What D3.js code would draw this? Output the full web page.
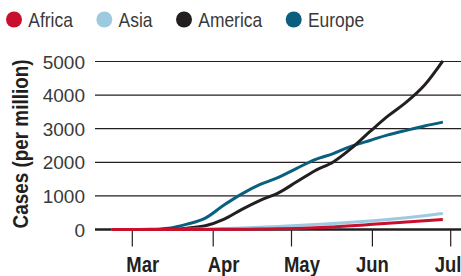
<!DOCTYPE html>
<html>
<head>
<meta charset="utf-8">
<script src="https://cdn.jsdelivr.net/npm/d3@7"></script>
<style>
  body { margin: 0; background: #fff; }
  svg { display: block; font-family: "Liberation Sans", Arial, sans-serif; }
</style>
</head>
<body>
<div class="canvas"></div>
<script>
// data (weekly readings, cases per million)
const dates = ["2020-02-22", "2020-03-01", "2020-03-08", "2020-03-15", "2020-03-22", "2020-03-29",
  "2020-04-05", "2020-04-12", "2020-04-19", "2020-04-26", "2020-05-03", "2020-05-10", "2020-05-17",
  "2020-05-24", "2020-05-31", "2020-06-07", "2020-06-14", "2020-06-21", "2020-06-28"];
const africa = [0, 0, 0, 1, 2, 3, 5, 8, 13, 20, 32, 52, 78, 108, 148, 188, 225, 262, 300];
const asia = [0, 0, 1, 3, 8, 15, 28, 45, 65, 92, 118, 148, 180, 215, 255, 300, 350, 410, 475];
const america = [0, 0, 2, 8, 40, 110, 300, 600, 870, 1090, 1420, 1750, 2010, 2420, 2910, 3380, 3790, 4300, 5020];
const europe = [0, 2, 8, 40, 160, 340, 720, 1060, 1340, 1550, 1820, 2080, 2260, 2480, 2650, 2815, 2950, 3080, 3195];

const regions = ["Africa", "Asia", "America", "Europe"];
const colors = ["#c8102e", "#9ecae1", "#231f20", "#0a5e7e"];
const yTicks = [0, 1000, 2000, 3000, 4000, 5000];
const monthTicks = ["2020-03-01", "2020-04-01", "2020-05-01", "2020-06-01", "2020-07-01"];
const monthLabels = ["Mar", "Apr", "May", "Jun", "Jul"];
const labelDates = ["2020-03-05", "2020-04-05", "2020-05-05", "2020-06-01", "2020-06-30"];

// dimensions
const w = 461;
const h = 276;
const squeeze = 0.84; // fake a condensed face
const parse = d3.utcParse("%Y-%m-%d");

const svg = d3.select(".canvas").append("svg").attr("width", w).attr("height", h);

const x = d3.scaleUtc().domain([parse("2020-03-01"), parse("2020-07-01")]).range([132.3, 450.7]);
const y = d3.scaleLinear().domain([0, 5000]).range([229.5, 61.5]);

// gridlines + y labels
const yAxis = svg.append("g");
yAxis.selectAll("line")
  .data(yTicks.filter((d) => d > 0))
  .enter()
  .append("line")
  .attr("x1", 95)
  .attr("x2", w)
  .attr("y1", (d) => y(d))
  .attr("y2", (d) => y(d))
  .attr("stroke", "#231f20")
  .attr("stroke-width", 1.2);
yAxis.selectAll("text")
  .data(yTicks)
  .enter()
  .append("text")
  .attr("x", 85)
  .attr("y", (d) => y(d) + 7)
  .attr("text-anchor", "end")
  .attr("font-size", 19)
  .attr("fill", "#3a3a3a")
  .text((d) => d);

// axis title
svg.append("text")
  .attr("transform", `translate(27.5, 144) rotate(-90) scale(${squeeze}, 1)`)
  .attr("text-anchor", "middle")
  .attr("font-size", 22.5)
  .attr("font-weight", "bold")
  .attr("fill", "#231f20")
  .text("Cases (per million)");

// x ticks and labels
const xAxis = svg.append("g");
xAxis.selectAll("line")
  .data(monthTicks)
  .enter()
  .append("line")
  .attr("x1", (d) => x(parse(d)))
  .attr("x2", (d) => x(parse(d)))
  .attr("y1", 230)
  .attr("y2", 246.5)
  .attr("stroke", "#231f20")
  .attr("stroke-width", 1.2);
xAxis.selectAll("text")
  .data(monthLabels)
  .enter()
  .append("text")
  .attr("transform", (d, i) => `translate(${x(parse(labelDates[i]))}, 272) scale(${squeeze}, 1)`)
  .attr("text-anchor", "middle")
  .attr("font-size", 22)
  .attr("font-weight", "bold")
  .attr("fill", "#231f20")
  .text((d) => d);

// zero line
svg.append("line")
  .attr("x1", 95)
  .attr("x2", w)
  .attr("y1", y(0))
  .attr("y2", y(0))
  .attr("stroke", "#231f20")
  .attr("stroke-width", 2.6);

// lines
const series = [africa, asia, america, europe];
const line = d3.line()
  .x((d, i) => x(parse(dates[i])))
  .y((d) => y(d))
  .curve(d3.curveMonotoneX);
const drawOrder = [3, 2, 1, 0];
svg.append("g")
  .selectAll("path")
  .data(drawOrder)
  .enter()
  .append("path")
  .attr("d", (k) => line(series[k]))
  .attr("fill", "none")
  .attr("stroke", (k) => colors[k])
  .attr("stroke-width", 3)
  .attr("stroke-linejoin", "round");

// legend
const legend = svg.append("g");
let lx = 14;
regions.forEach((r, i) => {
  legend.append("circle").attr("cx", lx).attr("cy", 19.5).attr("r", 8).attr("fill", colors[i]);
  const t = legend.append("text")
    .attr("transform", `translate(${lx + 14.3}, 27) scale(0.85, 1)`)
    .attr("font-size", 20.5)
    .attr("fill", "#3a3a3a")
    .text(r);
  lx = lx + 14.3 + t.node().getComputedTextLength() * 0.85 + 31.5;
});
</script>
</body>
</html>
